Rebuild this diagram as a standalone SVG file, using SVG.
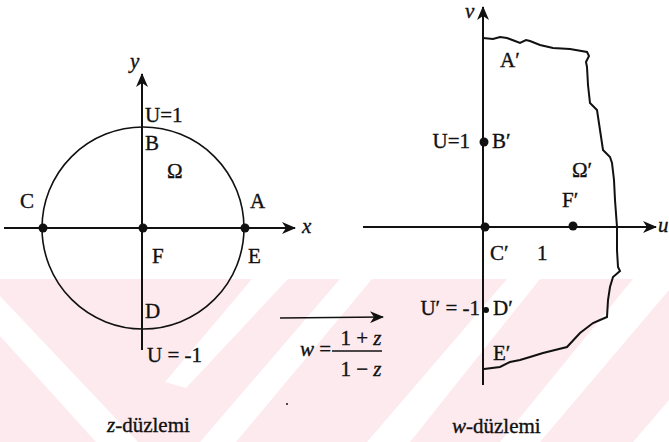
<svg xmlns="http://www.w3.org/2000/svg" width="669" height="442" viewBox="0 0 669 442" font-family="Liberation Serif, DejaVu Serif, serif">
<style>
text{font-family:'Liberation Serif','DejaVu Serif',serif;font-size:21px;fill:#111;stroke:#111;stroke-width:0.35}
.it{font-style:italic}
.ax{stroke:#111;stroke-width:2;fill:none}
.thin{stroke:#111;stroke-width:1.6;fill:none}
.dot{fill:#111}
</style>
<defs>
<marker id="ah" viewBox="0 0 14 12" refX="13" refY="6" markerWidth="14" markerHeight="12" markerUnits="userSpaceOnUse" orient="auto">
<path d="M0,0 L14,6 L0,12 L4,6 Z" fill="#111"/>
</marker>
</defs>
<g id="watermark">
<rect x="0" y="279" width="669" height="163" fill="#fdeaee"/>
<polygon points="0,296 0,336 96,442 138,442" fill="#fff"/>
<polygon points="165,382 252,279 288,279 186,388" fill="#fff"/>
<polygon points="200,442 340,279 372,279 236,442" fill="#fff"/>
<polygon points="367,442 507,279 540,279 410,442" fill="#fff"/>
<polygon points="500,442 633,279 669,279 669,290 540,442" fill="#fff"/>
<polygon points="633,442 669,400 669,442" fill="#fff"/>
</g>
<g id="z-plane">
<circle cx="143" cy="228" r="101" class="thin"/>
<circle cx="287" cy="404" r="1" class="dot"/>
</g>
<g id="connectors">
<line x1="4" y1="228" x2="295" y2="228" class="ax" marker-end="url(#ah)"/>
<line x1="142" y1="350" x2="142" y2="74" class="ax" marker-end="url(#ah)"/>
<line x1="363" y1="227" x2="656" y2="227" class="ax" marker-end="url(#ah)"/>
<line x1="483" y1="385" x2="483" y2="7" class="ax" marker-end="url(#ah)"/>
<line x1="280" y1="318" x2="383" y2="317" class="thin" marker-end="url(#ah)"/>
</g>
<g id="w-region">
<path class="ax" d="M483,38 L493,39 L500,37 L507,38 L515,41 L520,43 L526,40 L530,41 L540,45 L553,48 L570,49 L587,52 L589,56 L586,62 L587,67 L588,85 L590,103 L597,110 L600,130 L603,150 L610,157 L612,163 L614,180 L615,200 L617,227 L617,250 L618,267 L620,271 L613,277 L610,287 L608,300 L607,317 L600,320 L593,323 L580,333 L567,347 L555,350 L543,353 L530,357 L520,360 L510,362 L500,367 L484,369"/>
</g>
<g id="points">
<circle cx="43" cy="228" r="4.5" class="dot"/>
<circle cx="143" cy="228" r="4.5" class="dot"/>
<circle cx="245" cy="228" r="4.5" class="dot"/>
<circle cx="484" cy="142" r="4.5" class="dot"/>
<circle cx="485" cy="227" r="4.5" class="dot"/>
<circle cx="573" cy="226" r="4.5" class="dot"/>
<circle cx="486" cy="310" r="3" class="dot"/>
</g>
<g id="labels-z">
<text x="130" y="68" class="it" font-size="22">y</text>
<text x="302" y="233" class="it">x</text>
<text x="145" y="122">U=1</text>
<text x="145" y="150">B</text>
<text x="167" y="178">Ω</text>
<text x="20" y="208">C</text>
<text x="250" y="208">A</text>
<text x="152" y="263">F</text>
<text x="248" y="263">E</text>
<text x="145" y="318">D</text>
<text x="147" y="362">U = -1</text>
<text x="107" y="432"><tspan class="it">z</tspan>-düzlemi</text>
</g>
<g id="labels-w">
<text x="465" y="18" class="it">v</text>
<text x="658" y="232" class="it">u</text>
<text x="500" y="67">A′</text>
<text x="470" y="148" text-anchor="end">U=1</text>
<text x="492" y="148">B′</text>
<text x="572" y="177">Ω′</text>
<text x="562" y="207">F′</text>
<text x="490" y="260">C′</text>
<text x="537" y="260">1</text>
<text x="480" y="315" text-anchor="end">U′ = -1</text>
<text x="493" y="315">D′</text>
<text x="493" y="360">E′</text>
<text x="452" y="433"><tspan class="it">w</tspan>-düzlemi</text>
</g>
<g id="formula">
<text x="300" y="356"><tspan class="it">w</tspan> =</text>
<text x="361" y="345" text-anchor="middle">1 + <tspan class="it">z</tspan></text>
<line x1="332" y1="351" x2="382" y2="351" stroke="#111" stroke-width="1.5"/>
<text x="361" y="376" text-anchor="middle">1 − <tspan class="it">z</tspan></text>
</g>
</svg>
